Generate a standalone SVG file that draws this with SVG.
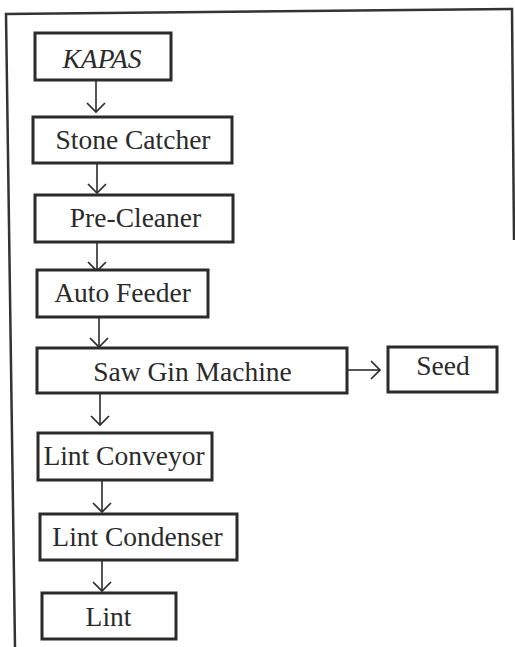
<svg xmlns="http://www.w3.org/2000/svg" width="515" height="647" viewBox="0 0 515 647">
<style>
.box{fill:#fff;stroke:#2b2b2b;stroke-width:3}
.lbl{font-family:"Liberation Serif","Times New Roman",serif;font-size:27.5px;fill:#2a2a2a;text-anchor:middle}
.conn{fill:none;stroke:#2b2b2b;stroke-width:1.6;marker-end:url(#arr)}
</style>
<defs>
<marker id="arr" markerUnits="userSpaceOnUse" markerWidth="24" markerHeight="24" refX="12" refY="12" orient="auto" viewBox="0 0 24 24">
<path d="M3,3 L12,12 L3,21" fill="none" stroke="#2b2b2b" stroke-width="1.7"/>
</marker>
</defs>
<rect width="515" height="647" fill="#fff"/>
<path id="frame" d="M15,647 L6,14 L512,9 L514,240" fill="none" stroke="#333" stroke-width="2.5"/>
<g id="connectors">
<line class="conn" x1="96" y1="80" x2="96" y2="112"/>
<line class="conn" x1="97" y1="164" x2="97" y2="193"/>
<line class="conn" x1="97" y1="242" x2="97" y2="271"/>
<line class="conn" x1="99" y1="317" x2="99" y2="347"/>
<line class="conn" x1="348" y1="370" x2="380" y2="370"/>
<line class="conn" x1="100" y1="394" x2="100" y2="425"/>
<line class="conn" x1="102" y1="480" x2="102" y2="512"/>
<line class="conn" x1="102" y1="560" x2="102" y2="591"/>
</g>
<g id="kapas"><rect class="box" x="35" y="33" width="136" height="47"/><text class="lbl" x="102" y="68" font-style="italic">KAPAS</text></g>
<g id="stone-catcher"><rect class="box" x="33" y="117" width="199" height="46"/><text class="lbl" x="133" y="149">Stone Catcher</text></g>
<g id="pre-cleaner"><rect class="box" x="35" y="195" width="198" height="47"/><text class="lbl" x="135.5" y="227">Pre-Cleaner</text></g>
<g id="auto-feeder"><rect class="box" x="37" y="270" width="171" height="47"/><text class="lbl" x="122.5" y="302">Auto Feeder</text></g>
<g id="saw-gin"><rect class="box" x="37" y="348" width="310" height="45"/><text class="lbl" x="192.5" y="381">Saw Gin Machine</text></g>
<g id="seed"><rect class="box" x="388" y="347" width="109" height="45"/><text class="lbl" x="443" y="375">Seed</text></g>
<g id="lint-conveyor"><rect class="box" x="38" y="433" width="174" height="47"/><text class="lbl" x="124" y="465">Lint Conveyor</text></g>
<g id="lint-condenser"><rect class="box" x="40" y="514" width="197" height="46"/><text class="lbl" x="137.5" y="546">Lint Condenser</text></g>
<g id="lint"><rect class="box" x="42" y="593" width="134" height="46"/><text class="lbl" x="108.5" y="626">Lint</text></g>
</svg>
